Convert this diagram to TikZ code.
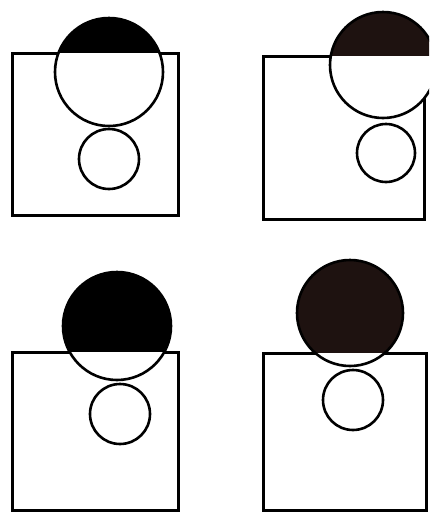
\documentclass[tikz,border=0pt]{standalone}
\usepackage{tikz}
\definecolor{capdark}{RGB}{30,18,16}
\begin{document}
\begin{tikzpicture}[x=1pt,y=-1pt]
\useasboundingbox (0,0) rectangle (429,512);
\clip (0,0) rectangle (429,512);
\tikzset{
  box/.style={line width=3pt, line join=miter},
  ring/.style={line width=2.6pt},
}
% Panel 1
\draw[box] (12,53) rectangle (178,215);
\fill[white] (109,72) circle[radius=54pt];
\begin{scope}\clip (109,72) circle[radius=54pt]; \fill[black] (0,0) rectangle (429,53);\end{scope}
\draw[ring] (109,72) circle[radius=54pt];
\draw[ring] (109,159) circle[radius=30pt];
% Panel 2
\draw[box] (263,56) rectangle (424,219);
\fill[white] (383,65) circle[radius=53pt];
\begin{scope}\clip (383,65) circle[radius=53pt]; \fill[capdark] (214,0) rectangle (440,56);\end{scope}
\draw[ring] (383,65) circle[radius=53pt];
\draw[ring] (386,153) circle[radius=29pt];
% Panel 3
\draw[box] (12,352) rectangle (178,510);
\fill[white] (117,326) circle[radius=54pt];
\begin{scope}\clip (117,326) circle[radius=54pt]; \fill[black] (0,256) rectangle (214,352);\end{scope}
\draw[ring] (117,326) circle[radius=54pt];
\draw[ring] (120,414) circle[radius=30pt];
% Panel 4
\draw[box] (263,353) rectangle (426,510);
\fill[white] (350,313) circle[radius=53pt];
\begin{scope}\clip (350,313) circle[radius=53pt]; \fill[capdark] (214,256) rectangle (429,353);\end{scope}
\draw[ring] (350,313) circle[radius=53pt];
\draw[ring] (353,400) circle[radius=30pt];
\end{tikzpicture}
\end{document}
